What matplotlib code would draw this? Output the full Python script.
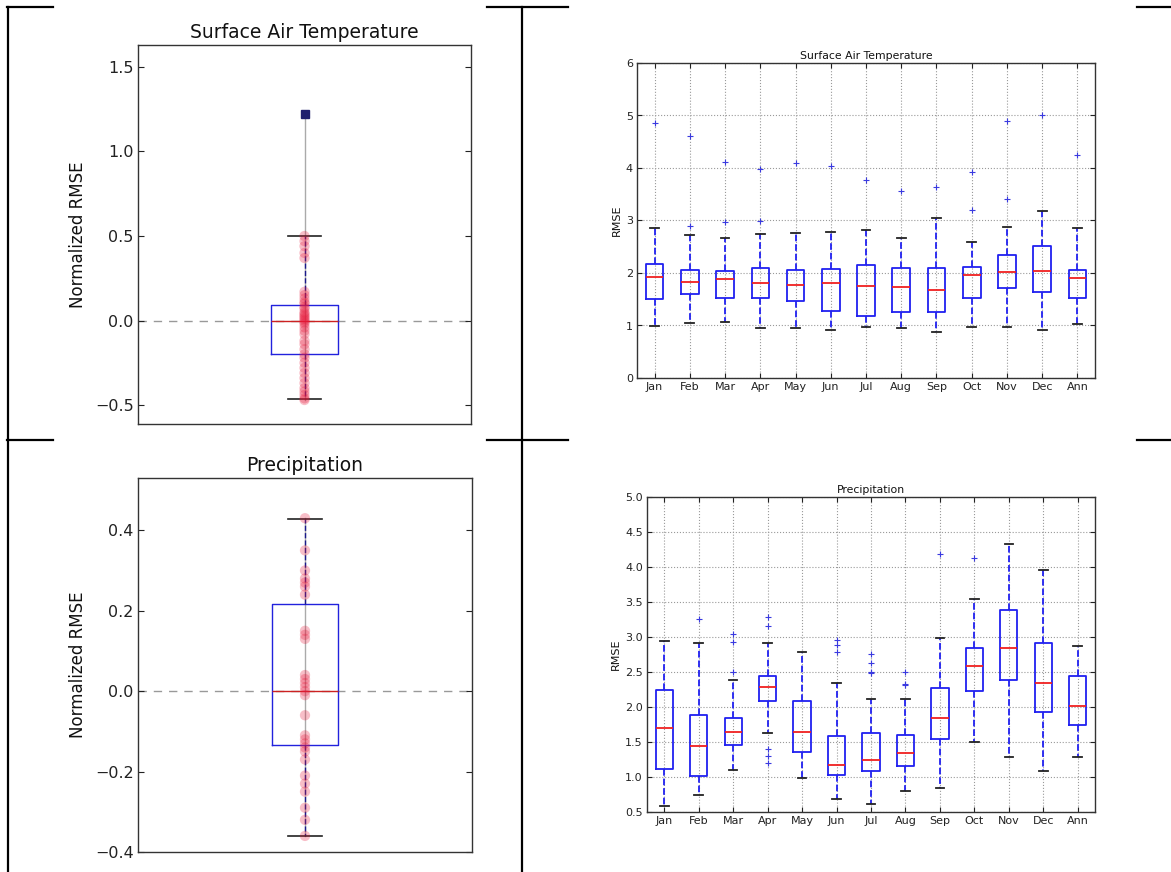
import matplotlib
matplotlib.use("Agg")
import matplotlib.pyplot as plt
from matplotlib.lines import Line2D

# ---------------------------------------------------------------- data
months = ["Jan", "Feb", "Mar", "Apr", "May", "Jun", "Jul",
          "Aug", "Sep", "Oct", "Nov", "Dec", "Ann"]

# Surface air temperature RMSE per month (box statistics)
sat_lo  = [0.99, 1.05, 1.06, 0.95, 0.95, 0.92, 0.97, 0.95, 0.87, 0.98, 0.97, 0.91, 1.03]
sat_q1  = [1.50, 1.60, 1.53, 1.52, 1.47, 1.28, 1.19, 1.26, 1.26, 1.53, 1.71, 1.63, 1.52]
sat_med = [1.93, 1.83, 1.88, 1.80, 1.77, 1.80, 1.76, 1.74, 1.67, 1.96, 2.02, 2.04, 1.90]
sat_q3  = [2.17, 2.06, 2.03, 2.10, 2.06, 2.08, 2.15, 2.09, 2.10, 2.12, 2.35, 2.52, 2.06]
sat_hi  = [2.86, 2.72, 2.66, 2.75, 2.76, 2.78, 2.82, 2.66, 3.04, 2.59, 2.87, 3.18, 2.85]
sat_fliers = [[4.85], [2.90, 4.60], [2.97, 4.11], [2.99, 3.98], [4.10], [4.03], [3.78],
              [3.57], [3.63], [3.20, 3.92], [3.41, 4.89], [5.00], [4.24]]

# Precipitation RMSE per month (box statistics)
pr_lo  = [0.58, 0.74, 1.10, 1.63, 0.98, 0.69, 0.62, 0.80, 0.85, 1.50, 1.28, 1.08, 1.29]
pr_q1  = [1.11, 1.02, 1.46, 2.08, 1.36, 1.03, 1.09, 1.16, 1.54, 2.23, 2.39, 1.93, 1.74]
pr_med = [1.70, 1.45, 1.65, 2.28, 1.65, 1.17, 1.25, 1.35, 1.85, 2.59, 2.85, 2.35, 2.02]
pr_q3  = [2.25, 1.89, 1.84, 2.45, 2.08, 1.58, 1.63, 1.60, 2.27, 2.85, 3.39, 2.92, 2.44]
pr_hi  = [2.94, 2.92, 2.39, 2.92, 2.79, 2.35, 2.11, 2.11, 2.98, 3.54, 4.33, 3.96, 2.87]
pr_fliers = [[], [3.26], [2.50, 2.93, 3.05], [1.20, 1.30, 1.40, 3.16, 3.29], [],
             [2.79, 2.89, 2.96], [2.49, 2.50, 2.63, 2.76], [2.31, 2.33, 2.50],
             [4.18], [4.13], [], [], []]

# Normalized RMSE of individual models (one value per model)
sat_norm_points = [0.50, 0.47, 0.44, 0.40, 0.37, 0.17, 0.15, 0.13, 0.11, 0.10,
                   0.08, 0.07, 0.05, 0.04, 0.03, 0.02, 0.01, 0.00, -0.01, -0.02,
                   -0.04, -0.06, -0.08, -0.12, -0.14, -0.17, -0.20, -0.22, -0.25,
                   -0.28, -0.31, -0.34, -0.37, -0.40, -0.42, -0.44, -0.46, -0.47]
sat_norm_box = dict(whislo=-0.465, q1=-0.20, med=0.0, q3=0.09, whishi=0.50)
sat_norm_ref = 1.22

pr_norm_points = [0.43, 0.35, 0.30, 0.28, 0.27, 0.26, 0.24, 0.15, 0.14, 0.13,
                  0.04, 0.03, 0.02, 0.01, 0.00, -0.01, -0.06, -0.11, -0.12,
                  -0.13, -0.14, -0.15, -0.17, -0.21, -0.23, -0.25, -0.29,
                  -0.32, -0.36]
pr_norm_box = dict(whislo=-0.36, q1=-0.133, med=0.0, q3=0.217, whishi=0.427)

# ---------------------------------------------------------------- figure
W, H = 1171, 872
fig = plt.figure(figsize=(W / 100, H / 100), dpi=100)
fig.patch.set_facecolor("white")


def px_axes(x0, x1, y0, y1):
    """Axes placed by pixel edges (origin top-left)."""
    return fig.add_axes([x0 / W, 1 - y1 / H, (x1 - x0) / W, (y1 - y0) / H])


def fig_line(xs, ys, lw=1.6):
    fig.add_artist(Line2D([x / W for x in xs], [1 - y / H for y in ys],
                          transform=fig.transFigure, color="black", lw=lw))


# table rules around the four panels
for y in (7, 440.5):
    for seg in ((7, 53), (487, 568), (1137, 1171)):
        fig_line(seg, (y, y))
for x in (8, 521.5):
    fig_line((x, x), (7, 872))


def style_axes(ax, fs, ticklen):
    for s in ax.spines.values():
        s.set_color("#333333")
        s.set_linewidth(1.0)
    ax.tick_params(direction="in", length=ticklen, width=0.8, labelsize=fs,
                   right=True, top=True, colors="#222222", pad=3)


def normalized_panel(ax, points, box, title, yticks, ylim, ref=None):
    ax.set_xlim(0.5, 1.5)
    ax.set_ylim(*ylim)
    ax.axhline(0.0, color="#999999", lw=1.0, ls=(0, (6, 5)), zorder=1)
    top = ref if ref is not None else max(points)
    ax.plot([1, 1], [min(points), top], color="#aaaaaa", lw=1.0, zorder=1)
    stats = [dict(box, label="")]
    ax.bxp(stats, positions=[1], widths=0.2, showfliers=False,
           boxprops=dict(color="#2222dd", lw=1.0),
           medianprops=dict(color="#cc2222", lw=1.0),
           whiskerprops=dict(color="#1a1a8c", lw=1.0, ls="--"),
           capprops=dict(color="#222222", lw=1.2))
    ax.scatter([1] * len(points), points, s=55, color="#e8173a",
               alpha=0.28, edgecolors="none", zorder=3)
    if ref is not None:
        ax.plot([1], [ref], marker="s", ms=6, color="#1f1f6e", zorder=4)
    ax.set_yticks(yticks)
    ax.set_yticklabels([f"{v:.1f}".replace("-", "\u2212") for v in yticks])
    ax.set_xticks([])
    style_axes(ax, 11.5, 4)
    ax.tick_params(top=False, bottom=False)
    ax.set_ylabel("Normalized RMSE", fontsize=12, labelpad=6, color="#111111")
    ax.set_title(title, fontsize=13.5, pad=5, color="#111111")


def monthly_panel(ax, lo, q1, med, q3, hi, fliers, title, ylim, yticks, ytl):
    stats = []
    for i in range(len(months)):
        stats.append(dict(whislo=lo[i], q1=q1[i], med=med[i], q3=q3[i],
                          whishi=hi[i], fliers=fliers[i], label=months[i]))
    ax.bxp(stats, positions=range(1, len(months) + 1), widths=0.5,
           boxprops=dict(color="#2020f0", lw=1.3),
           medianprops=dict(color="#f02020", lw=1.3),
           whiskerprops=dict(color="#2020f0", lw=1.3, ls="--"),
           capprops=dict(color="#222222", lw=1.3),
           flierprops=dict(marker="+", markeredgecolor="#3a3ae0", ms=5,
                           markeredgewidth=0.8, ls="none"))
    ax.set_xlim(0.5, len(months) + 0.5)
    ax.set_ylim(*ylim)
    ax.set_yticks(yticks)
    ax.set_yticklabels(ytl)
    ax.grid(True, color="#9a9a9a", ls=":", lw=0.8)
    ax.set_axisbelow(True)
    style_axes(ax, 8, 3.5)
    ax.set_ylabel("RMSE", fontsize=8, labelpad=3, color="#111111")
    ax.set_title(title, fontsize=7.8, pad=3, color="#111111")


ax1 = px_axes(138, 471, 45, 424)
normalized_panel(ax1, sat_norm_points, sat_norm_box, "Surface Air Temperature",
                 [-0.5, 0.0, 0.5, 1.0, 1.5], (-0.612, 1.630), ref=sat_norm_ref)

ax3 = px_axes(138, 472, 478, 852)
normalized_panel(ax3, pr_norm_points, pr_norm_box, "Precipitation",
                 [-0.4, -0.2, 0.0, 0.2, 0.4], (-0.40, 0.530))

ax2 = px_axes(637, 1095, 63, 378)
monthly_panel(ax2, sat_lo, sat_q1, sat_med, sat_q3, sat_hi, sat_fliers,
              "Surface Air Temperature", (0, 6), range(0, 7),
              [str(v) for v in range(0, 7)])

ax4 = px_axes(647, 1095, 497, 812)
pr_ticks = [0.5, 1.0, 1.5, 2.0, 2.5, 3.0, 3.5, 4.0, 4.5, 5.0]
monthly_panel(ax4, pr_lo, pr_q1, pr_med, pr_q3, pr_hi, pr_fliers,
              "Precipitation", (0.5, 5.0), pr_ticks,
              [f"{v:.1f}" for v in pr_ticks])

fig.savefig("out.png", dpi=100, facecolor="white")
